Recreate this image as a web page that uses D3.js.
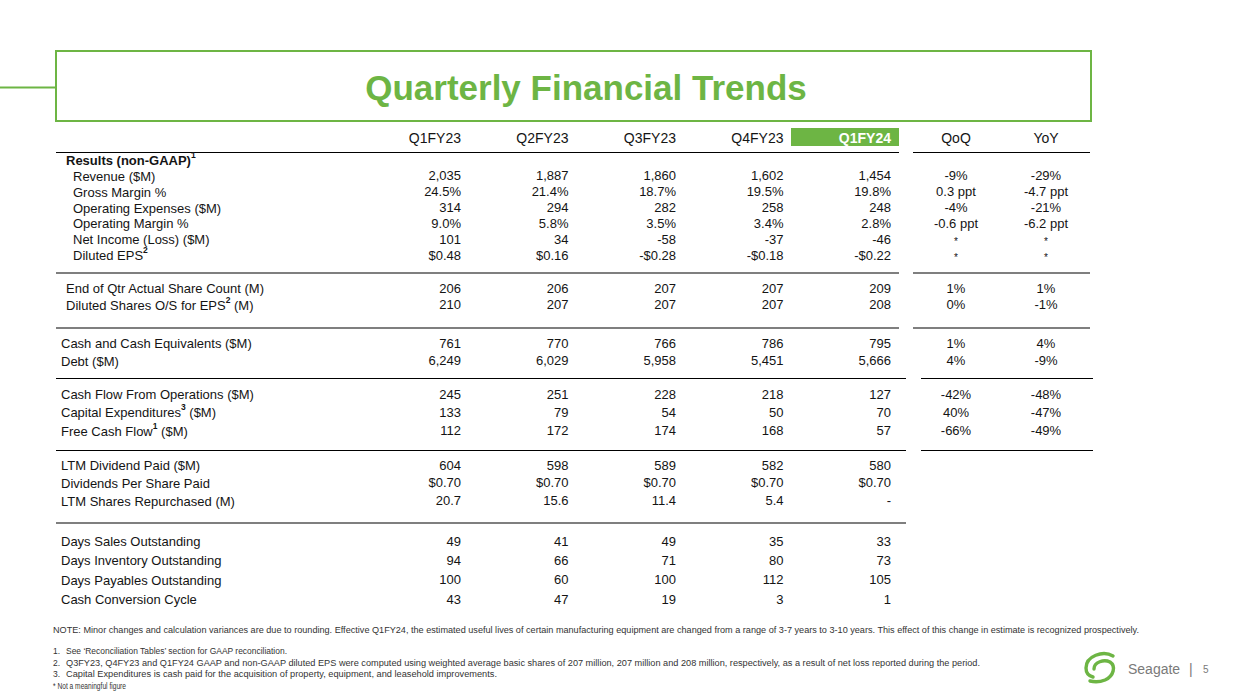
<!DOCTYPE html>
<html><head><meta charset="utf-8">
<script src="https://cdn.jsdelivr.net/npm/d3@7"></script>
<style>
html,body{margin:0;padding:0;background:#fff;}
svg{display:block;font-family:Arial,"Liberation Sans",Helvetica,sans-serif;}
</style></head>
<body><svg id="c" width="1239" height="699"></svg>
<script>
// ---------- DATA ----------
const title = "Quarterly Financial Trends";
const quarters = ["Q1FY23","Q2FY23","Q3FY23","Q4FY23","Q1FY24"];
const changeCols = ["QoQ","YoY"];

const revenue        = [2035, 1887, 1860, 1602, 1454];
const grossMargin    = [24.5, 21.4, 18.7, 19.5, 19.8];
const opex           = [314, 294, 282, 258, 248];
const opMargin       = [9.0, 5.8, 3.5, 3.4, 2.8];
const netIncome      = [101, 34, -58, -37, -46];
const dilutedEPS     = [0.48, 0.16, -0.28, -0.18, -0.22];
const shareCount     = [206, 206, 207, 207, 209];
const dilutedShares  = [210, 207, 207, 207, 208];
const cashEq         = [761, 770, 766, 786, 795];
const debt           = [6249, 6029, 5958, 5451, 5666];
const cfo            = [245, 251, 228, 218, 127];
const capex          = [133, 79, 54, 50, 70];
const fcf            = [112, 172, 174, 168, 57];
const ltmDividend    = [604, 598, 589, 582, 580];
const dps            = [0.70, 0.70, 0.70, 0.70, 0.70];
const ltmRepurchased = [20.7, 15.6, 11.4, 5.4, null];
const dso            = [49, 41, 49, 35, 33];
const dio            = [94, 66, 71, 80, 73];
const dpo            = [100, 60, 100, 112, 105];
const ccc            = [43, 47, 19, 3, 1];

const qoq = ["-9%","0.3 ppt","-4%","-0.6 ppt","*","*","1%","0%","1%","4%","-42%","40%","-66%"];
const yoy = ["-29%","-4.7 ppt","-21%","-6.2 ppt","*","*","1%","-1%","4%","-9%","-48%","-47%","-49%"];

const noteText = "NOTE: Minor changes and calculation variances are due to rounding. Effective Q1FY24, the estimated useful lives of certain manufacturing equipment are changed from a range of 3-7 years to 3-10 years. This effect of this change in estimate is recognized prospectively.";
const footnotes = [
  ["1.", "See \u2018Reconciliation Tables\u2019 section for GAAP reconciliation."],
  ["2.", "Q3FY23, Q4FY23 and Q1FY24 GAAP and non-GAAP diluted EPS were computed using weighted average basic shares of 207 million, 207 million and 208 million, respectively, as a result of net loss reported during the period."],
  ["3.", "Capital Expenditures is cash paid for the acquisition of property, equipment, and leasehold improvements."],
  ["", "* Not a meaningful figure"]
];

// ---------- FORMATTERS ----------
const loc = d3.formatLocale({decimal:".", thousands:",", grouping:[3], currency:["$",""], minus:"-"});
const fInt = loc.format(",");
const fPct = v => loc.format(".1f")(v) + "%";
const fUsd = v => (v < 0 ? "-$" : "$") + loc.format(".2f")(Math.abs(v));
const fDec = v => v == null ? "-" : loc.format(".1f")(v);

const sections = [
  { y0: 160, pitch: 15.85, rows: [
    {label:["Results (non-GAAP)","1",""], bold:true, indent:66},
    {label:["Revenue ($M)","",""], values:revenue, fmt:fInt, indent:73},
    {label:["Gross Margin %","",""], values:grossMargin, fmt:fPct, indent:73},
    {label:["Operating Expenses ($M)","",""], values:opex, fmt:fInt, indent:73},
    {label:["Operating Margin %","",""], values:opMargin, fmt:fPct, indent:73},
    {label:["Net Income (Loss) ($M)","",""], values:netIncome, fmt:fInt, indent:73},
    {label:["Diluted EPS","2",""], values:dilutedEPS, fmt:fUsd, indent:73}
  ]},
  { y0: 288.3, pitch: 16.2, rows: [
    {label:["End of Qtr Actual Share Count (M)","",""], values:shareCount, fmt:fInt, indent:66},
    {label:["Diluted Shares O/S for EPS","2"," (M)"], values:dilutedShares, fmt:fInt, indent:66}
  ]},
  { y0: 343.3, pitch: 17.2, rows: [
    {label:["Cash and Cash Equivalents ($M)","",""], values:cashEq, fmt:fInt, indent:61},
    {label:["Debt ($M)","",""], values:debt, fmt:fInt, indent:61}
  ]},
  { y0: 394, pitch: 18.4, rows: [
    {label:["Cash Flow From Operations ($M)","",""], values:cfo, fmt:fInt, indent:61},
    {label:["Capital Expenditures","3"," ($M)"], values:capex, fmt:fInt, indent:61},
    {label:["Free Cash Flow","1"," ($M)"], values:fcf, fmt:fInt, indent:61}
  ]},
  { y0: 465, pitch: 17.8, rows: [
    {label:["LTM Dividend Paid ($M)","",""], values:ltmDividend, fmt:fInt, indent:61},
    {label:["Dividends Per Share Paid","",""], values:dps, fmt:fUsd, indent:61},
    {label:["LTM Shares Repurchased (M)","",""], values:ltmRepurchased, fmt:fDec, indent:61}
  ]},
  { y0: 541, pitch: 19.4, rows: [
    {label:["Days Sales Outstanding","",""], values:dso, fmt:fInt, indent:61},
    {label:["Days Inventory Outstanding","",""], values:dio, fmt:fInt, indent:61},
    {label:["Days Payables Outstanding","",""], values:dpo, fmt:fInt, indent:61},
    {label:["Cash Conversion Cycle","",""], values:ccc, fmt:fInt, indent:61}
  ]}
];

const separators = [
  {y:152.5, lx2:899, r:[913,1090]},
  {y:273, lx2:899, r:[913,1090]},
  {y:328, lx2:899, r:[913,1090]},
  {y:378.5, lx2:906, r:[921,1093]},
  {y:450.5, lx2:906, r:[921,1093]},
  {y:523, lx2:906, r:null}
];

// ---------- DRAW ----------
const GREEN = "#6db544";
const TXT = "#141414";
const svg = d3.select("#c");
svg.append("rect").attr("width",1239).attr("height",699).attr("fill","#fff");

svg.append("line").attr("x1",0).attr("x2",56).attr("y1",87.5).attr("y2",87.5)
  .attr("stroke",GREEN).attr("stroke-width",2);
svg.append("rect").attr("x",56).attr("y",51).attr("width",1035).attr("height",70)
  .attr("fill","none").attr("stroke",GREEN).attr("stroke-width",2);
svg.append("text").attr("x",586).attr("y",100).attr("text-anchor","middle")
  .attr("font-size",35).attr("font-weight","bold").attr("fill",GREEN).text(title);

const x = d3.scalePoint().domain(quarters).range([461, 891]);
const xc = d3.scalePoint().domain(changeCols).range([956, 1046]);

const hy = 138;
svg.append("rect").attr("x",791).attr("y",128).attr("width",108).attr("height",18).attr("fill",GREEN);
svg.selectAll("text.qh").data(quarters).join("text").attr("class","qh")
  .attr("x",d=>x(d)).attr("y",hy)
  .attr("dominant-baseline","central").attr("text-anchor","end")
  .attr("font-size",14)
  .attr("font-weight",(d,i)=>i===4?"bold":"normal")
  .attr("fill",(d,i)=>i===4?"#fff":TXT).text(d=>d);
svg.selectAll("text.ch").data(changeCols).join("text").attr("class","ch")
  .attr("x",d=>xc(d)).attr("y",hy).attr("dominant-baseline","central")
  .attr("text-anchor","middle").attr("font-size",14).attr("fill",TXT).text(d=>d);

separators.forEach(s=>{
  svg.append("line").attr("x1",56).attr("x2",s.lx2).attr("y1",s.y).attr("y2",s.y)
    .attr("stroke","#000").attr("stroke-width",1.2);
  if (s.r) svg.append("line").attr("x1",s.r[0]).attr("x2",s.r[1]).attr("y1",s.y).attr("y2",s.y)
    .attr("stroke","#000").attr("stroke-width",1.2);
});

let changeIdx = 0;
sections.forEach(sec=>{
  const y = d3.scaleLinear().domain([0,1]).range([sec.y0, sec.y0 + sec.pitch]);
  sec.rows.forEach((r,ri)=>{
    const yy = y(ri);
    const t = svg.append("text").attr("x",r.indent).attr("y",yy)
      .attr("dominant-baseline","central").attr("font-size",13).attr("fill",TXT)
      .attr("font-weight",r.bold?"bold":"normal");
    t.append("tspan").text(r.label[0]);
    if (r.label[1]) {
      t.append("tspan").attr("font-size",8.5).attr("font-weight","bold").attr("dy",-5).text(r.label[1]);
      if (r.label[2]) t.append("tspan").attr("dy",5).text(r.label[2]);
    }
    if (r.values) {
      svg.append("g").selectAll("text").data(r.values).join("text")
        .attr("x",(d,i)=>x(quarters[i])).attr("y",yy)
        .attr("dominant-baseline","central").attr("text-anchor","end")
        .attr("font-size",13).attr("fill",TXT).text(d=>r.fmt(d));
      if (changeIdx < qoq.length) {
        const vals = [qoq[changeIdx], yoy[changeIdx]];
        svg.append("g").selectAll("text").data(vals).join("text")
          .attr("x",(d,i)=>xc(changeCols[i])).attr("y",d=>d==="*"?yy+2:yy)
          .attr("dominant-baseline","central").attr("text-anchor","middle")
          .attr("font-size",d=>d==="*"?10:13).attr("fill",TXT).text(d=>d);
        changeIdx++;
      }
    }
  });
});

svg.append("text").attr("x",53).attr("y",630).attr("dominant-baseline","central")
  .attr("font-size",9).attr("fill","#333").attr("textLength",1086)
  .attr("lengthAdjust","spacingAndGlyphs").text(noteText);
const fnY = d3.scaleLinear().domain([0,1]).range([651, 662.6]);
const fnW = [221, 914, 431, 73];
footnotes.forEach((f,i)=>{
  if (f[0]) svg.append("text").attr("x",53).attr("y",fnY(i)).attr("dominant-baseline","central")
    .attr("font-size",8.5).attr("fill","#333").text(f[0]);
  svg.append("text").attr("x",f[0]?66:53).attr("y",fnY(i)).attr("dominant-baseline","central")
    .attr("font-size",8.5).attr("fill","#333").attr("textLength",fnW[i])
    .attr("lengthAdjust","spacingAndGlyphs").text(f[1]);
});

// logo
const lg = svg.append("g").attr("fill","none").attr("stroke",GREEN)
  .attr("stroke-width",3.4).attr("stroke-linecap","round");
lg.append("path").attr("d","M1113,656 C1103,650 1086,656 1086,668 C1086,673 1089,676 1093,677");
lg.append("path").attr("d","M1094,669 C1094,662 1104,659 1110,662 C1116,666 1114,676 1105,680 C1100,682 1094,682 1090,681");
svg.append("text").attr("x",1128).attr("y",669).attr("dominant-baseline","central")
  .attr("font-size",14).attr("fill","#7a7a7a").text("Seagate");
svg.append("text").attr("x",1189).attr("y",669).attr("dominant-baseline","central")
  .attr("font-size",14).attr("fill","#7a7a7a").text("|");
svg.append("text").attr("x",1203).attr("y",669).attr("dominant-baseline","central")
  .attr("font-size",10).attr("fill","#7a7a7a").text("5");
</script></body></html>
